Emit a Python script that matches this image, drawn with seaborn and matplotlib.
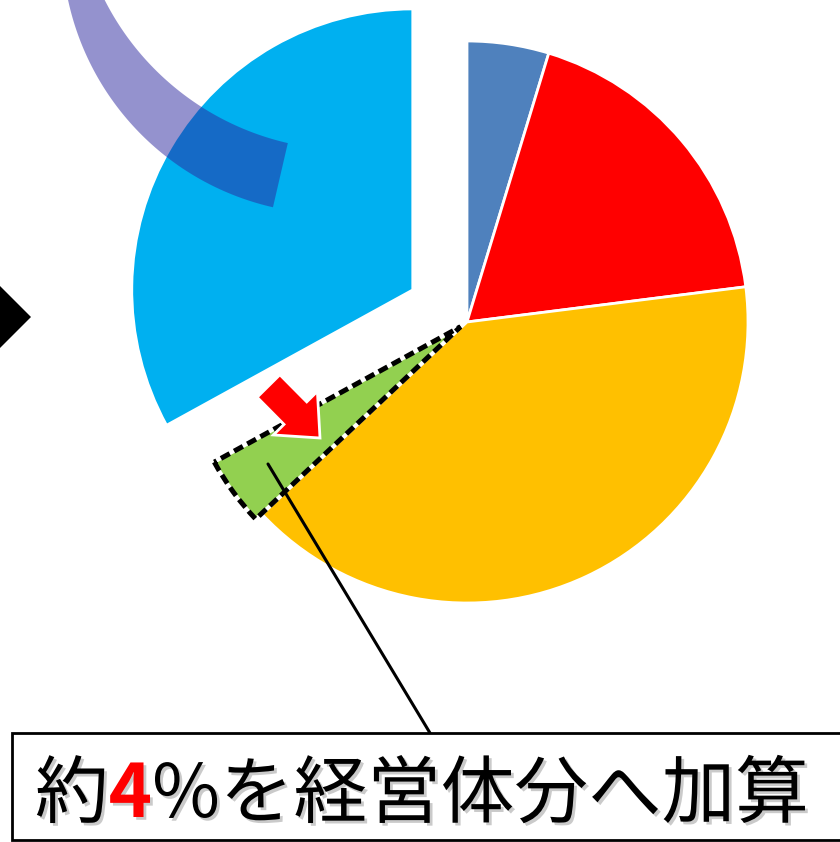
import numpy as np
import matplotlib
matplotlib.use("Agg")
import matplotlib.pyplot as plt
import matplotlib.patches as mpatches
import matplotlib.patheffects as pe
import seaborn as sns

# Shares of each slice in %, clockwise from 12 o'clock
shares = [4.7, 18.3, 40.0, 4.0, 33.0]
slice_colors = ['#4F81BD', '#FF0000', '#FFC000', '#92D050', '#00B0F0']
explode_px = [0, 0, 0, 8, 63]

# Callout text, split so the number can be red
note_parts = ['約', '4', '%を経営体分へ加算']
note_colors = ['black', 'red', 'black']

sns.set_style('white')
plt.rcParams['font.family'] = ['Noto Sans CJK JP', 'DejaVu Sans']

W, H = 840, 842
fig = plt.figure(figsize=(W / 100, H / 100), dpi=100)
ax = fig.add_axes([0, 0, 1, 1])

palette = sns.color_palette(slice_colors)
cx, cy, R = 467, H - 322, 281

wedges, _ = ax.pie(shares, colors=palette, startangle=90, counterclock=False,
                   explode=explode_px, radius=R, center=(cx, cy),
                   wedgeprops=dict(edgecolor='white', linewidth=2))

# Dashed black outline on the small green slice
g = wedges[3]
g.set_linewidth(2.5)
ax.add_patch(mpatches.Wedge(g.center, g.r, g.theta1, g.theta2, fill=False,
                            edgecolor='black', linewidth=3.6,
                            linestyle=(0, (2.0, 1.0)), joinstyle='miter', zorder=2))

# Semi-transparent curved band at the top left (pixel coords, y down)
def arc_pts(c, r, a0, a1, n=80):
    t = np.radians(np.linspace(a0, a1, n))
    return np.column_stack([c[0] + r * np.cos(t), c[1] + r * np.sin(t)])

outer = arc_pts((333, -57), 271, 175, 102.8)
inner = arc_pts((349, -124), 274, 102.9, 160)
band = np.vstack([outer, inner])
band[:, 1] = H - band[:, 1]
ax.add_patch(mpatches.Polygon(band, closed=True, facecolor=(0.17, 0.15, 0.62),
                              alpha=0.5, edgecolor='none', zorder=3))

# Black arrow tip on the left edge
ax.add_patch(mpatches.Polygon([(0, H - 286), (31, H - 317), (0, H - 348), (-31, H - 317)],
                              closed=True, facecolor='black', edgecolor='none', zorder=3))

# Small red arrow pointing at the green slice
ax.add_patch(mpatches.FancyArrow(268.5, H - 386, 51.5, -52, width=32, head_width=62,
                                 head_length=35, length_includes_head=True,
                                 facecolor='red', edgecolor='white', linewidth=2, zorder=5))

# Leader line and callout box
ax.plot([268, 430], [H - 464, H - 733], color='black', linewidth=2.2, zorder=4)
ax.add_patch(mpatches.Rectangle((12, H - 840), 900, 840 - 733, facecolor='white',
                                edgecolor='black', linewidth=2, zorder=6))

ax.set_xlim(0, W)
ax.set_ylim(0, H)
ax.set_aspect('equal')
ax.axis('off')

fig.canvas.draw()
renderer = fig.canvas.get_renderer()
x = 35
for part, col in zip(note_parts, note_colors):
    t = ax.text(x, H - 817, part, color=col, fontsize=53, ha='left', va='baseline',
                fontweight='bold' if col == 'red' else 'regular', zorder=7,
                path_effects=[pe.withSimplePatchShadow(offset=(2, -2),
                                                       shadow_rgbFace='#8a8a8a', alpha=0.45)])
    x += t.get_window_extent(renderer).width

fig.savefig('out.png', dpi=100)
